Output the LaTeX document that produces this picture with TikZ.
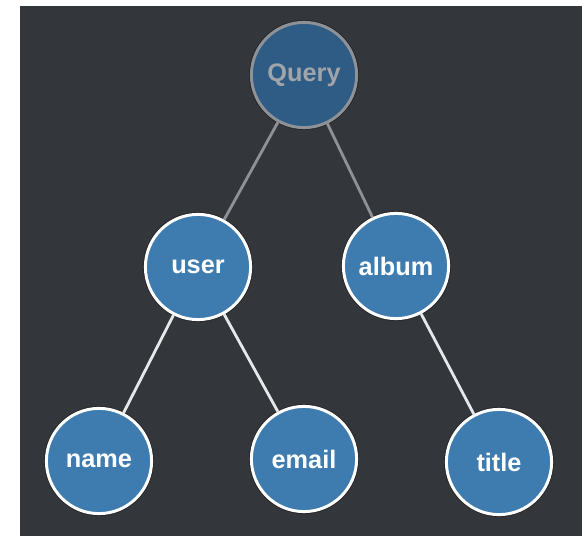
\documentclass[tikz,border=0pt]{standalone}
\usepackage{fontspec}
\setmainfont{Liberation Sans}
\definecolor{board}{HTML}{33363B}
\definecolor{field}{HTML}{3E7CB0}
\definecolor{rootfield}{HTML}{2F5C85}
\definecolor{rootline}{HTML}{8E9297}
\definecolor{roottext}{HTML}{A0A5AA}
\definecolor{link}{HTML}{E6E8EA}

\begin{document}
\begin{tikzpicture}[
    x=0.025cm, y=-0.025cm,
    font=\bfseries\fontsize{18}{20}\selectfont,
    fieldnode/.style={circle, draw=white, fill=field, text=white,
        line width=2.1pt, minimum size=2.63cm, inner sep=0pt,
        preaction={draw=black!85, line width=3.4pt}},
    rootnode/.style={fieldnode, draw=rootline, fill=rootfield, text=roottext},
    rootedge/.style={draw=rootline, line width=2pt},
    fieldedge/.style={draw=link, line width=2pt}
]
\useasboundingbox (0,0) rectangle (582,536);
\fill[white] (0,0) rectangle (582,536);
\fill[board] (20,6) rectangle (582,536);

% Query root and its selected fields.
\node[rootnode] (query) at (304,75) {Query};
\node[fieldnode] (user) at (198,267) {user};
\node[fieldnode] (album) at (396,266) {album};
\node[fieldnode] (name) at (99,461) {name};
\node[fieldnode] (email) at (304,459) {email};
\node[fieldnode] (title) at (499,462) {title};

\draw[rootedge] (query) -- (user);
\draw[rootedge] (query) -- (album);
\draw[fieldedge] (user) -- (name);
\draw[fieldedge] (user) -- (email);
\draw[fieldedge] (album) -- (title);
\end{tikzpicture}
\end{document}
